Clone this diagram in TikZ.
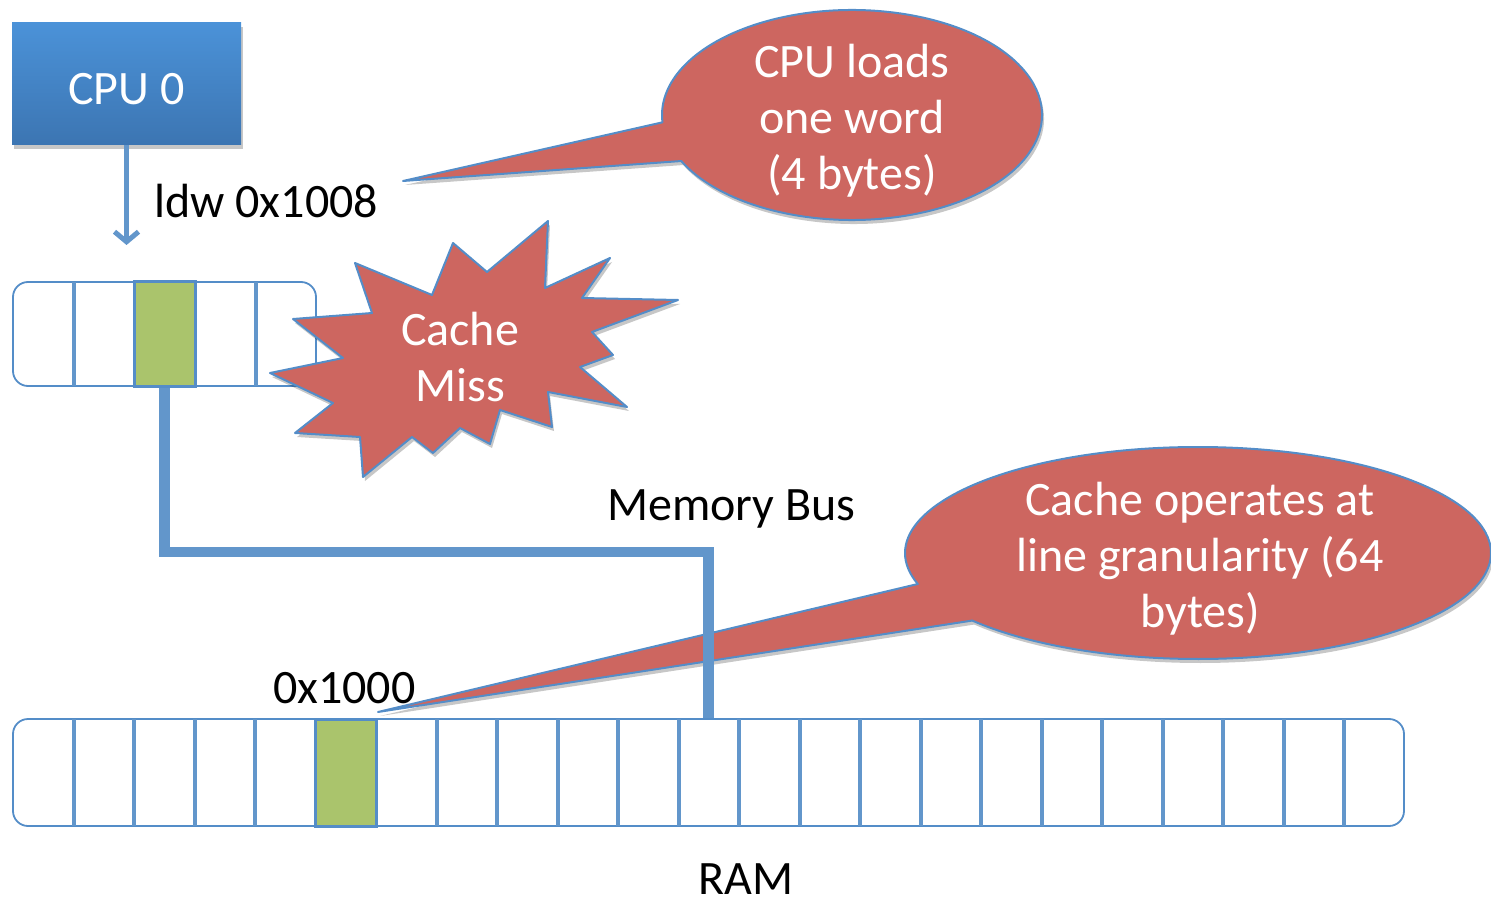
\documentclass[tikz,border=0pt]{standalone}
\usepackage{fontspec}
\setmainfont{Carlito}
\usetikzlibrary{arrows.meta,shadows,calc}
\definecolor{cpuTop}{RGB}{75,146,216}
\definecolor{cpuBot}{RGB}{60,117,178}
\definecolor{lineblue}{RGB}{98,150,203}
\definecolor{edgeblue}{RGB}{84,141,200}
\definecolor{calloutred}{RGB}{205,102,96}
\definecolor{cellgreen}{RGB}{170,196,108}
\begin{document}
\begin{tikzpicture}[x=1pt,y=-1pt,
  txt/.style={font=\fontsize{48}{56}\selectfont, inner sep=0pt, align=center},
  softshadow/.style={drop shadow={shadow xshift=2pt,shadow yshift=-4pt,opacity=0.22,fill=black}},
  bubble/.style={fill=calloutred, draw=edgeblue, line width=2pt, line join=round, softshadow},
  memrow/.style={draw=edgeblue, line width=1.8pt, rounded corners=15pt, fill=white, inner sep=0pt},
  divider/.style={draw=lineblue, line width=4pt},
  hot/.style={fill=cellgreen, draw=edgeblue, line width=3pt, inner sep=0pt},
  bus/.style={draw=lineblue, line width=10.5pt},
]
\useasboundingbox (0,0) rectangle (1491,901);

% CPU
\node[minimum width=229pt, minimum height=122pt, inner sep=0pt, top color=cpuTop, bottom color=cpuBot,
      softshadow, txt, text=white, text height=42pt, text depth=0pt] (cpu) at (126.5,84) {CPU 0};
\coordinate (arrowtip) at (126.5,245);
\draw[lineblue, line width=5pt, -{Straight Barb[length=10pt,width=24pt]}] (cpu.south) -- (arrowtip);
\node[txt, anchor=base west] (ldw) at (154,218) {ldw 0x1008};

% cache
\node[memrow, minimum width=303pt, minimum height=104pt] (cache) at (164.5,334) {};
\foreach \x in {74,256} \draw[divider] (\x,282) -- (\x,386);
\node[hot, minimum width=61pt, minimum height=104pt] (cacheline) at (164.5,334) {};

% RAM
\node[memrow, minimum width=1391pt, minimum height=107pt] (ram) at (708.5,772.5) {};
\foreach \k in {1,...,22} \draw[divider] ({13+60.5*\k},719) -- ({13+60.5*\k},826);
\node[hot, minimum width=60.5pt, minimum height=107pt] (ramline) at (345.75,772.5) {};

% callout 2 (under the bus)
\coordinate (c2) at (1198,553);
\coordinate (tip2) at (378,712);
\path[bubble] ([shift={(219.6:293pt and 106pt)}]c2)
   arc[start angle=219.6, end angle=557, x radius=293pt, y radius=106pt] -- (tip2) -- cycle;
\node[txt, text=white] (gran) at (1200,559) {Cache operates at\\line granularity (64\\bytes)};

% bus
\coordinate (busy) at (0,552);
\draw[bus] (cacheline.south) -- (cacheline.south |- busy) -| (ram.north);
\node[txt, anchor=base west] (buslabel) at (607,520) {Memory Bus};
\node[txt, anchor=base west] (addr) at (273,703) {0x1000};
\node[txt, anchor=base] (ramlabel) at (746,894) {RAM};

% cache miss star
\path[bubble] (355,263) -- (432,295) -- (453,243) -- (487,272) -- (548,221) -- (545,288)
  -- (610,258) -- (582,298) -- (678,300) -- (592,332) -- (613,355) -- (580,367)
  -- (627,407) -- (548,392) -- (552,427) -- (500,410) -- (490,444) -- (460,428)
  -- (433,453) -- (412,437) -- (363,477) -- (360,437) -- (295,433) -- (333,403)
  -- (270,373) -- (343,358) -- (293,319) -- (372,313) -- cycle;
\node[txt, text=white] (miss) at (460,357) {Cache\\Miss};

% callout 1
\coordinate (c1) at (852,115);
\coordinate (tip1) at (403,181);
\path[bubble] ([shift={(206:190pt and 105pt)}]c1)
   arc[start angle=206, end angle=544, x radius=190pt, y radius=105pt] -- (tip1) -- cycle;
\node[txt, text=white] (loads) at (852,121) {CPU loads\\one word\\(4 bytes)};
\end{tikzpicture}
\end{document}
